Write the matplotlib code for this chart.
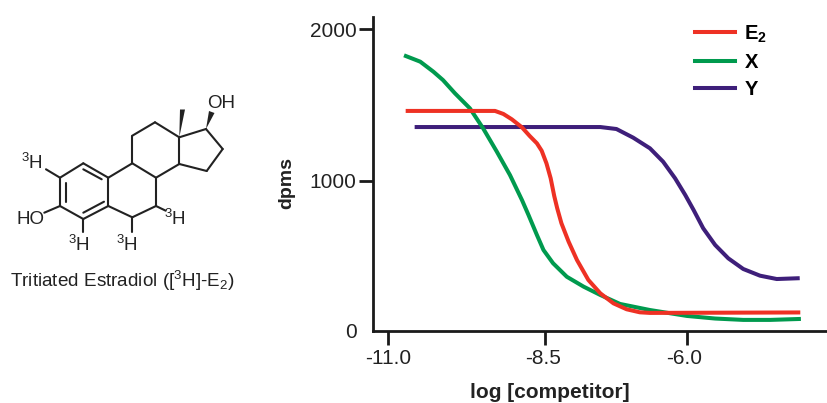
import numpy as np
import matplotlib
matplotlib.use("Agg")
import matplotlib.pyplot as plt
from matplotlib.patches import Polygon
from matplotlib.transforms import ScaledTranslation

plt.rcParams['font.family'] = ['Liberation Sans', 'DejaVu Sans']
plt.rcParams['mathtext.fontset'] = 'custom'
plt.rcParams['mathtext.rm'] = 'Liberation Sans'
plt.rcParams['mathtext.bf'] = 'Liberation Sans:bold'
plt.rcParams['mathtext.default'] = 'regular'

# competition curves
e2_x = [-10.67, -9.21, -9.07, -8.93, -8.76, -8.63, -8.51, -8.43, -8.35, -8.28, -8.22, -8.17, -8.10, -7.98, -7.84, -7.65, -7.45, -7.23, -7.01, -6.79, -6.62, -4.14]
e2_y = [1461, 1461, 1441, 1406, 1353, 1296, 1248, 1199, 1116, 1018, 901, 820, 722, 601, 480, 349, 261, 195, 156, 136, 132, 135]

x_x = [-10.70, -10.46, -10.24, -10.08, -9.88, -9.63, -9.41, -9.18, -8.96, -8.76, -8.65, -8.51, -8.40, -8.24, -8.01, -7.73, -7.45, -7.12, -6.62, -6.00, -5.53, -5.06, -4.61, -4.13]
x_y = [1822, 1785, 1719, 1664, 1577, 1478, 1347, 1193, 1039, 875, 776, 645, 546, 459, 370, 305, 250, 191, 151, 112, 95, 86, 86, 92]

y_x = [-10.52, -7.45, -7.18, -6.90, -6.62, -6.40, -6.20, -6.03, -5.89, -5.73, -5.53, -5.31, -5.06, -4.78, -4.50, -4.15]
y_y = [1355, 1355, 1342, 1285, 1215, 1127, 1018, 908, 809, 689, 579, 491, 421, 377, 355, 360]

# the x axis of the original is not evenly spaced, so ticks sit where they were drawn
x_ticks = [-11.0, -8.37, -6.0]
x_tick_labels = ["-11.0", "-8.5", "-6.0"]
y_ticks = [1000, 2000]
y_tick_labels = ["1000", "2000"]

# molecule drawing, in pixels of the image
bonds = [
    ((83.3, 163.3), (108.3, 177.7)), ((108.3, 177.7), (108.3, 206)), ((108.3, 206), (83.3, 219)),
    ((83.3, 219), (60, 206)), ((60, 206), (60, 177.7)), ((60, 177.7), (83.3, 163.3)),
    ((108.3, 206), (132.3, 217.3)), ((132.3, 217.3), (156, 206)), ((156, 206), (156, 177.7)),
    ((156, 177.7), (132.3, 163.3)), ((132.3, 163.3), (108.3, 177.7)),
    ((132.3, 163.3), (132.3, 135.7)), ((132.3, 135.7), (155, 122.3)), ((155, 122.3), (179.3, 137.3)),
    ((179.3, 137.3), (179.3, 164)), ((179.3, 164), (156, 177.7)),
    ((179.3, 137.3), (206, 129)), ((206, 129), (222.7, 149)), ((222.7, 149), (206.7, 171)),
    ((206.7, 171), (179.3, 164)),
    ((60, 177.7), (46, 169.3)), ((60, 206), (44.3, 212.7)), ((83.3, 219), (83.3, 231.7)),
    ((132.3, 217.3), (132.3, 231.7)), ((156, 206), (165.7, 210.7)),
    ((83.3, 169.3), (101.7, 179.3)), ((104, 201.7), (83.3, 212.7)), ((65.7, 183.3), (65.7, 201.7)),
]
wedges = [
    [(179.3, 137.3), (180, 109.5), (185, 109.5)],
    [(206, 129), (209, 111), (214.5, 113)],
]
atom_labels = [
    (220.7, 103.3, "OH"), (30, 220, "HO"),
    (31.7, 163, "$^{3}$H"), (79.3, 245, "$^{3}$H"),
    (126.7, 245, "$^{3}$H"), (175, 219, "$^{3}$H"),
]

fig = plt.figure(figsize=(8.27, 4.03), dpi=100)

# chart
ax = fig.add_axes([373 / 827, (403 - 331) / 403, (827 - 373) / 827, (331 - 17) / 403])
ax.plot(e2_x, e2_y, color="#EE3124", lw=2.9, label=r"$\mathbf{E_2}$", zorder=4, solid_joinstyle="round")
ax.plot(x_x, x_y, color="#009A4E", lw=2.9, label=r"$\mathbf{X}$", zorder=3, solid_joinstyle="round")
ax.plot(y_x, y_y, color="#3E1F7A", lw=2.9, label=r"$\mathbf{Y}$", zorder=2, solid_joinstyle="round")

ax.set_xlim(-11.25, -3.66)
ax.set_ylim(13, 2079)
ax.set_xticks(x_ticks)
ax.set_xticklabels(x_tick_labels)
ax.set_yticks(y_ticks)
ax.set_yticklabels(y_tick_labels)
ax.tick_params(axis="both", length=10, width=2, labelsize=15, color="#1a1a1a", labelcolor="#222222")
ax.tick_params(axis="x", pad=3)
ax.tick_params(axis="y", pad=2)
ax.spines["top"].set_visible(False)
ax.spines["right"].set_visible(False)
ax.spines["left"].set_linewidth(2)
ax.spines["bottom"].set_linewidth(2)
ax.spines["left"].set_color("#1a1a1a")
ax.spines["bottom"].set_color("#1a1a1a")

# the two inner x labels sit a little left of their ticks in the original
for lbl in ax.get_xticklabels()[1:]:
    lbl.set_transform(lbl.get_transform() + ScaledTranslation(-2.5 / 100, 0, fig.dpi_scale_trans))

ax.legend(loc="upper left", bbox_to_anchor=(0.7095, 0.98), frameon=False, fontsize=14.5,
          handlelength=1.97, handletextpad=0.45, labelspacing=0.42, borderpad=0, borderaxespad=0)

# overlay in image pixels for the free text and the molecule
ov = fig.add_axes([0, 0, 1, 1])
ov.set_xlim(0, 827)
ov.set_ylim(403, 0)
ov.axis("off")
ov.patch.set_alpha(0)

ov.text(351, 332, "0", ha="center", va="center", fontsize=15, color="#222222")
ov.text(550, 393, "log [competitor]", ha="center", va="center", fontsize=15, fontweight="bold", color="#222222")
ov.text(287, 183, "dpms", ha="center", va="center", rotation=90, fontsize=14, fontweight="bold", color="#222222")

for (a, b) in bonds:
    ov.plot([a[0], b[0]], [a[1], b[1]], color="#222222", lw=1.5, solid_capstyle="round")
for w in wedges:
    ov.add_patch(Polygon(w, closed=True, color="#222222", lw=0))
for (px, py, s) in atom_labels:
    ov.text(px, py, s, ha="center", va="center", fontsize=13.5, color="#222222")
ov.text(122.7, 281, "Tritiated Estradiol ([$^{3}$H]-E$_{2}$)", ha="center", va="center", fontsize=13.6, color="#222222")

fig.savefig("out.png", dpi=100)
